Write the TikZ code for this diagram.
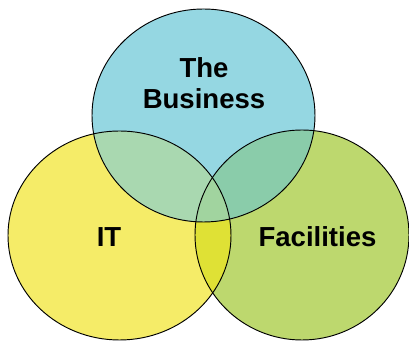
\documentclass[tikz,border=0pt]{standalone}
\usepackage{fontspec}
\setmainfont{Liberation Sans}
\usepackage{xcolor}
\usepackage{tikz}
\usetikzlibrary{positioning}

\definecolor{busblue}{HTML}{95D7E2}
\definecolor{ityellow}{HTML}{F5EC68}
\definecolor{facgreen}{HTML}{BDD86E}
\definecolor{busit}{HTML}{A9D8B0}
\definecolor{busfac}{HTML}{8ACCAA}
\definecolor{itfac}{HTML}{DFE135}
\definecolor{allthree}{HTML}{A1D49F}

\begin{document}
\begin{tikzpicture}[x=0.03cm, y=0.03cm,
    rim/.style={draw=black, line width=0.8pt},
    label/.style={font=\bfseries\fontsize{23.5}{27}\selectfont, align=center, inner sep=0pt}]

    \useasboundingbox (0,0) rectangle (409,341);
    \clip (0,0) rectangle (409,341);

    % Ba vùng tròn
    \def\busset{(203.5,225.5) ellipse [x radius=111.5, y radius=106.5]}
    \def\itset{(119.5,105.5) ellipse [x radius=111.5, y radius=104.5]}
    \def\facset{(302,106) ellipse [x radius=107, y radius=105]}

    % Tô màu từng hình
    \fill[ityellow] \itset;
    \fill[facgreen] \facset;
    \fill[busblue] \busset;

    % Tô các phần giao nhau
    \begin{scope}
        \clip \itset;
        \fill[itfac] \facset;
    \end{scope}
    \begin{scope}
        \clip \busset;
        \fill[busit] \itset;
        \fill[busfac] \facset;
        \clip \itset;
        \fill[allthree] \facset;
    \end{scope}

    % Viền các hình
    \draw[rim] \itset;
    \draw[rim] \facset;
    \draw[rim] \busset;

    % Nhãn
    \node[label] (bus) at (204,258) {The\\Business};
    \node[label, anchor=base] (it) at (109,94) {IT};
    \node[label, anchor=base] (fac) at (317.5,94) {Facilities};

\end{tikzpicture}
\end{document}
